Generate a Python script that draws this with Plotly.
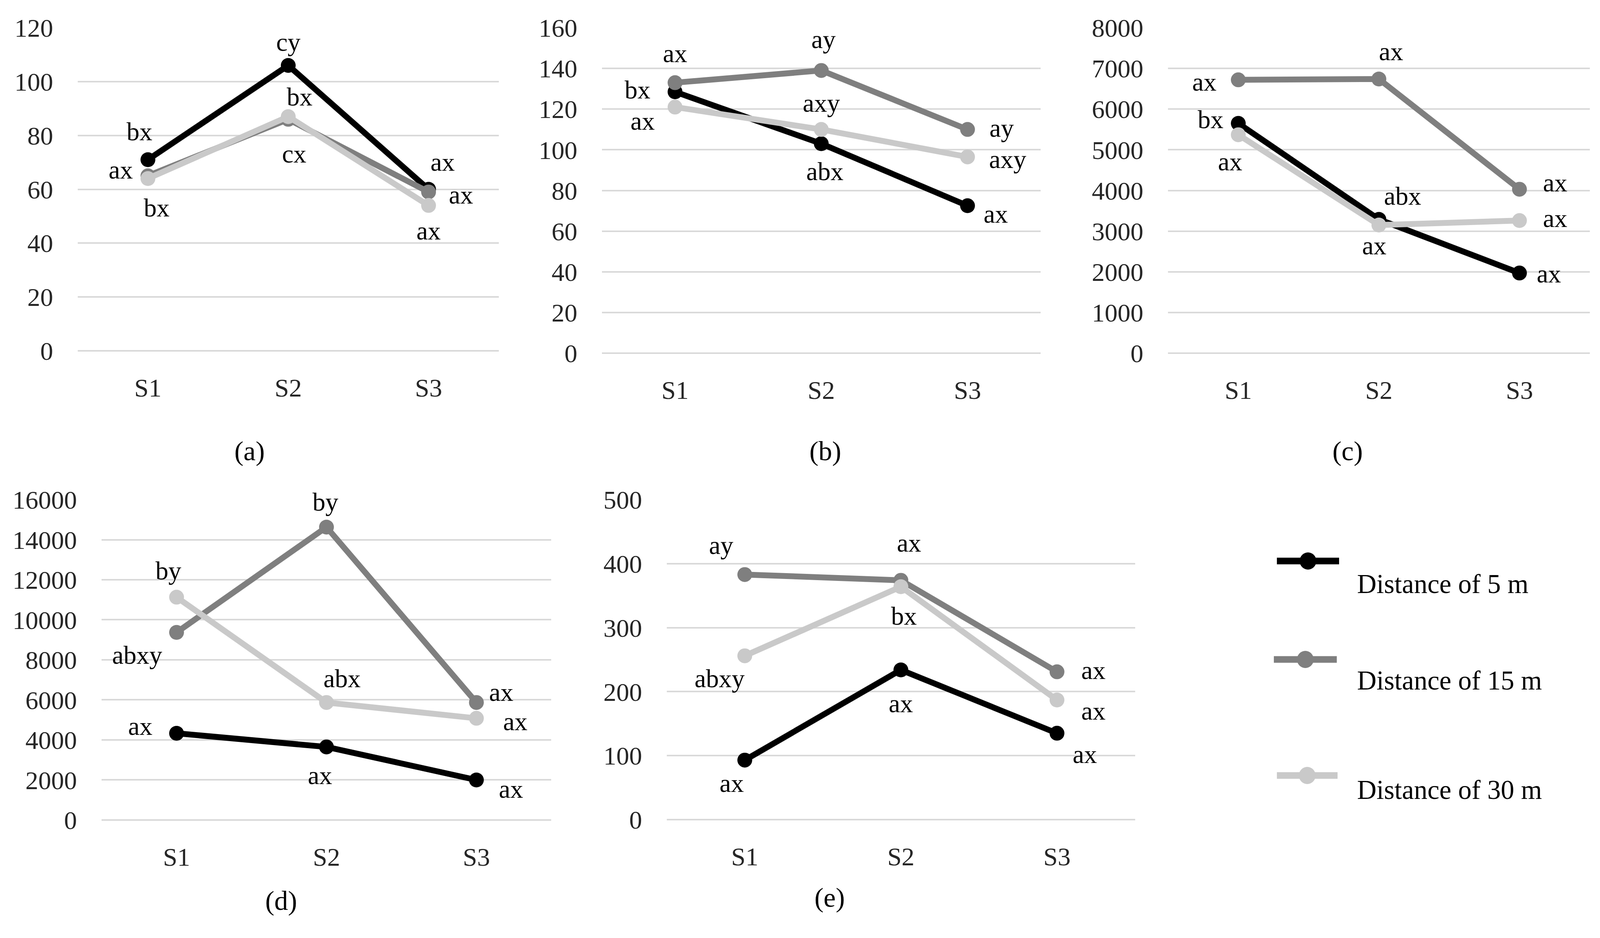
import plotly.graph_objects as go

categories = ["S1", "S2", "S3"]
series_names = ["Distance of 5 m", "Distance of 15 m", "Distance of 30 m"]

# ---- values ----
a_5m = [71, 106, 60]
a_15m = [65, 86, 59]
a_30m = [64, 87, 54]
b_5m = [128.5, 103, 72.5]
b_15m = [133, 139, 110]
b_30m = [121, 110, 96.5]
c_5m = [5650, 3290, 1970]
c_15m = [6720, 6740, 4030]
c_30m = [5370, 3150, 3260]
d_5m = [4330, 3650, 2000]
d_15m = [9370, 14630, 5870]
d_30m = [11130, 5870, 5080]
e_5m = [93, 234, 135]
e_15m = [383, 374, 231]
e_30m = [256, 364, 187]

# ---- significance letters ----
a_5m_lbl = ["bx", "cy", "ax"]
a_15m_lbl = ["ax", "bx", "ax"]
a_30m_lbl = ["bx", "cx", "ax"]
b_5m_lbl = ["bx", "abx", "ax"]
b_15m_lbl = ["ax", "ay", "ay"]
b_30m_lbl = ["ax", "axy", "axy"]
c_5m_lbl = ["bx", "abx", "ax"]
c_15m_lbl = ["ax", "ax", "ax"]
c_30m_lbl = ["ax", "ax", "ax"]
d_5m_lbl = ["ax", "ax", "ax"]
d_15m_lbl = ["abxy", "by", "ax"]
d_30m_lbl = ["by", "abx", "ax"]
e_5m_lbl = ["ax", "ax", "ax"]
e_15m_lbl = ["ay", "ax", "ax"]
e_30m_lbl = ["abxy", "bx", "ax"]

y_max = [120, 160, 8000, 16000, 500]
y_dtick = [20, 20, 1000, 2000, 100]
panel_letters = ["(a)", "(b)", "(c)", "(d)", "(e)"]

panels = [
    ([a_5m, a_15m, a_30m], [a_5m_lbl, a_15m_lbl, a_30m_lbl]),
    ([b_5m, b_15m, b_30m], [b_5m_lbl, b_15m_lbl, b_30m_lbl]),
    ([c_5m, c_15m, c_30m], [c_5m_lbl, c_15m_lbl, c_30m_lbl]),
    ([d_5m, d_15m, d_30m], [d_5m_lbl, d_15m_lbl, d_30m_lbl]),
    ([e_5m, e_15m, e_30m], [e_5m_lbl, e_15m_lbl, e_30m_lbl]),
]

# ---- styling / layout (not data) ----
W, H = 4219, 2401          # reference size; positions below are fractions of it
FONT = "Liberation Serif"
colors = ["#000000", "#7f7f7f", "#c9c9c9"]
LINE_W = 15
MARK_SZ = 38
TICK_SZ = 66
ANN_SZ = 66

x_domains = [(0.0486, 0.3117), (0.3762, 0.6504), (0.7300, 0.9936),
             (0.0635, 0.3446), (0.4167, 0.7094)]
y_domains = [(0.6260, 0.9704), (0.6235, 0.9704), (0.6235, 0.9704),
             (0.1258, 0.4673), (0.1262, 0.4673)]

# label offsets (xshift, yshift) in px for each panel / series / category
offsets = [
    [[(-22, 72), (0, 60), (36, 70)],
     [(-70, 16), (29, 58), (83, -7)],
     [(22, -75), (15, -95), (0, -65)]],
    [[(-96, 6), (9, -71), (72, -21)],
     [(0, 75), (6, 80), (87, 4)],
     [(-83, -35), (0, 68), (103, -6)]],
    [[(-71, 10), (61, 60), (75, -2)],
     [(-87, -5), (31, 71), (91, 17)],
     [(-21, -69), (-12, -52), (91, 6)]],
    [[(-93, 19), (-17, -73), (88, -23)],
     [(-101, -58), (-3, 65), (63, 27)],
     [(-21, 68), (40, 62), (99, -8)]],
    [[(-34, -59), (0, -86), (71, -54)],
     [(-61, 75), (21, 96), (93, 4)],
     [(-65, -58), (8, -75), (93, -28)]],
]

panel_label_pos = [(616, 1154), (2176, 1154), (3596, 1154), (697, 2346), (2188, 2338)]

fig = go.Figure()
annotations = []
shapes = []
layout = {}

for p, (vals, lbls) in enumerate(panels):
    sfx = "" if p == 0 else str(p + 1)
    xa, ya = "x" + sfx, "y" + sfx
    for s in range(3):
        fig.add_trace(go.Scatter(
            x=categories, y=vals[s], mode="lines+markers",
            name=series_names[s], showlegend=False,
            line=dict(color=colors[s], width=LINE_W),
            marker=dict(color=colors[s], size=MARK_SZ),
            xaxis=xa, yaxis=ya, cliponaxis=False, hoverinfo="skip"))
        for k in range(3):
            dx, dy = offsets[p][s][k]
            annotations.append(dict(
                x=categories[k], y=vals[s][k], xref=xa, yref=ya,
                text=lbls[s][k], showarrow=False, xshift=dx, yshift=dy,
                font=dict(family=FONT, size=ANN_SZ, color="#000000")))
    layout["xaxis" + sfx] = dict(
        domain=list(x_domains[p]), anchor=ya, type="category",
        range=[-0.5, 2.5], showgrid=False, showline=False, zeroline=False,
        ticks="", ticklabelstandoff=50, automargin=False,
        tickfont=dict(family=FONT, size=TICK_SZ, color="#262626"))
    layout["yaxis" + sfx] = dict(
        domain=list(y_domains[p]), anchor=xa, range=[0, y_max[p]],
        tick0=0, dtick=y_dtick[p], tickformat="d", automargin=False,
        showgrid=True, gridcolor="#d9d9d9", gridwidth=4,
        zeroline=True, zerolinecolor="#d9d9d9", zerolinewidth=4,
        showline=False, ticks="", ticklabelstandoff=62,
        tickfont=dict(family=FONT, size=TICK_SZ, color="#262626"))
    px, py = panel_label_pos[p]
    annotations.append(dict(
        x=px / W, y=1 - py / H, xref="paper", yref="paper",
        text=panel_letters[p], showarrow=False,
        font=dict(family=FONT, size=70, color="#000000")))

# ---- legend (keys + text) ----
legend_keys = [(3367, 3531, 1436, 1495), (3359, 3525, 1688, 1742), (3367, 3527, 1985, 2022)]
for s, (x0, x1, yl, yt) in enumerate(legend_keys):
    shapes.append(dict(type="line", xref="paper", yref="paper",
                       x0=x0 / W, x1=x1 / W, y0=1 - yl / H, y1=1 - yl / H,
                       line=dict(color=colors[s], width=17)))
    cx = (x0 + x1) / 2
    r = 22
    shapes.append(dict(type="circle", xref="paper", yref="paper",
                       x0=(cx - r) / W, x1=(cx + r) / W,
                       y0=1 - (yl + r) / H, y1=1 - (yl - r) / H,
                       fillcolor=colors[s], line=dict(color=colors[s], width=0)))
    annotations.append(dict(
        x=3576 / W, y=1 - yt / H, xref="paper", yref="paper",
        xanchor="left", yanchor="middle", text=series_names[s], showarrow=False,
        font=dict(family=FONT, size=69, color="#000000")))

fig.update_layout(
    autosize=True, margin=dict(l=0, r=0, t=0, b=0, pad=0, autoexpand=False),
    paper_bgcolor="white", plot_bgcolor="white",
    annotations=annotations, shapes=shapes, showlegend=False,
    font=dict(family=FONT), **layout)

fig.write_html(
    "out.html", default_width="100vw", default_height="100vh",
    config={"displayModeBar": False, "responsive": True},
    post_script="document.body.style.margin='0';document.body.style.overflow='hidden';")
